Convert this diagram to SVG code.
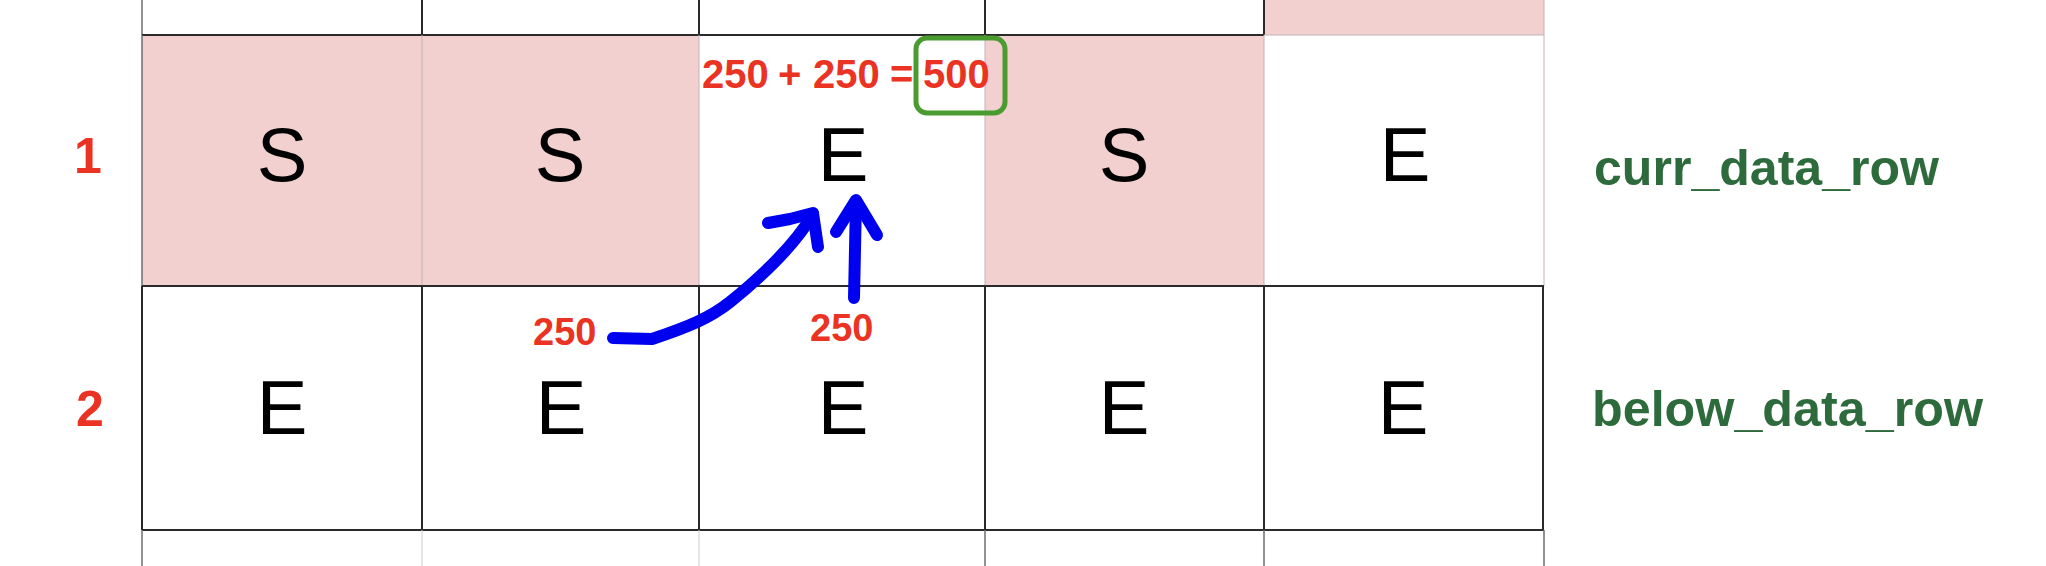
<svg xmlns="http://www.w3.org/2000/svg" width="2046" height="566" viewBox="0 0 2046 566">
  <style>
    .cellS { fill: #f2d0cf; }
    .letter { font-family: "Liberation Sans", Arial, Helvetica, sans-serif; font-size: 76px; fill: #000; text-anchor: middle; }
    .red { font-family: "Liberation Sans", Arial, Helvetica, sans-serif; font-weight: bold; fill: #ea3323; }
    .green { font-family: "Liberation Sans", Arial, Helvetica, sans-serif; font-weight: bold; font-size: 50px; fill: #2e6b3c; }
    .dark { stroke: #2a2a2a; stroke-width: 2; fill: none; }
    .light { stroke: #c4b4b4; stroke-width: 1; fill: none; }
    .lgray { stroke: #cccccc; stroke-width: 1; fill: none; }
    .mgray { stroke: #6e6e6e; stroke-width: 1.5; fill: none; }
    .blue { stroke: #0000f0; stroke-width: 12; fill: none; stroke-linecap: round; stroke-linejoin: round; }
  </style>
  <rect x="0" y="0" width="2046" height="566" fill="#ffffff"/>

  <!-- fills -->
  <g id="fills">
    <rect class="cellS" x="142" y="35" width="280" height="251"/>
    <rect class="cellS" x="422" y="35" width="277" height="251"/>
    <rect class="cellS" x="985" y="35" width="279" height="251"/>
    <rect class="cellS" x="1264" y="0" width="280" height="35"/>
  </g>

  <!-- grid lines -->
  <g id="grid">
    <line class="mgray" x1="142" y1="0" x2="142" y2="35"/>
    <line class="dark" x1="422" y1="0" x2="422" y2="35"/>
    <line class="dark" x1="699" y1="0" x2="699" y2="35"/>
    <line class="dark" x1="985" y1="0" x2="985" y2="35"/>
    <line class="dark" x1="1264" y1="0" x2="1264" y2="35"/>
    <line class="light" x1="1544" y1="0" x2="1544" y2="35"/>
    <line class="dark" x1="142" y1="35" x2="1264" y2="35"/>
    <line class="light" x1="1264" y1="35" x2="1544" y2="35"/>
    <line class="mgray" x1="142" y1="35" x2="142" y2="286"/>
    <line class="light" x1="422" y1="35" x2="422" y2="286"/>
    <line class="light" x1="699" y1="35" x2="699" y2="286"/>
    <line class="light" x1="985" y1="35" x2="985" y2="286"/>
    <line class="light" x1="1264" y1="35" x2="1264" y2="286"/>
    <line class="light" x1="1544" y1="35" x2="1544" y2="286"/>
    <line class="dark" x1="142" y1="286" x2="1544" y2="286"/>
    <line class="dark" x1="142" y1="286" x2="142" y2="530"/>
    <line class="dark" x1="422" y1="286" x2="422" y2="530"/>
    <line class="dark" x1="699" y1="286" x2="699" y2="530"/>
    <line class="dark" x1="985" y1="286" x2="985" y2="530"/>
    <line class="dark" x1="1264" y1="286" x2="1264" y2="530"/>
    <line class="dark" x1="1543" y1="286" x2="1543" y2="530"/>
    <line class="dark" x1="142" y1="530" x2="1544" y2="530"/>
    <line class="mgray" x1="142" y1="530" x2="142" y2="566"/>
    <line class="lgray" x1="422" y1="530" x2="422" y2="566"/>
    <line class="lgray" x1="699" y1="530" x2="699" y2="566"/>
    <line class="mgray" x1="985" y1="530" x2="985" y2="566"/>
    <line class="mgray" x1="1264" y1="530" x2="1264" y2="566"/>
    <line class="mgray" x1="1544" y1="530" x2="1544" y2="566"/>
  </g>

  <!-- row labels -->
  <g id="rowlabel-1"><text class="red" x="88" y="173" font-size="50" text-anchor="middle">1</text></g>
  <g id="rowlabel-2"><text class="red" x="90" y="426" font-size="50" text-anchor="middle">2</text></g>

  <!-- row 1 cells -->
  <g id="r1c1"><text class="letter" x="282" y="181">S</text></g>
  <g id="r1c2"><text class="letter" x="560" y="181">S</text></g>
  <g id="r1c3"><text class="letter" x="843" y="181">E</text></g>
  <g id="r1c4"><text class="letter" x="1124" y="181">S</text></g>
  <g id="r1c5"><text class="letter" x="1405" y="181">E</text></g>

  <!-- row 2 cells -->
  <g id="r2c1"><text class="letter" x="282" y="434">E</text></g>
  <g id="r2c2"><text class="letter" x="561" y="434">E</text></g>
  <g id="r2c3"><text class="letter" x="843" y="434">E</text></g>
  <g id="r2c4"><text class="letter" x="1124" y="434">E</text></g>
  <g id="r2c5"><text class="letter" x="1403" y="434">E</text></g>

  <!-- equation -->
  <g id="equation">
    <text class="red" font-size="40" y="88"><tspan x="702">250</tspan><tspan x="778">+</tspan><tspan x="813">250</tspan><tspan x="890">=</tspan><tspan x="923">500</tspan></text>
    <rect x="916" y="38" width="89" height="75" rx="11" ry="11" fill="none" stroke="#4a9b30" stroke-width="5"/>
  </g>

  <!-- value labels -->
  <g id="val-left"><text class="red" font-size="38" x="533" y="345">250</text></g>
  <g id="val-below"><text class="red" font-size="38" x="810" y="341">250</text></g>

  <!-- row names -->
  <g id="name-curr"><text class="green" x="1594" y="185" textLength="345" lengthAdjust="spacingAndGlyphs">curr_data_row</text></g>
  <g id="name-below"><text class="green" x="1592" y="426" textLength="391" lengthAdjust="spacingAndGlyphs">below_data_row</text></g>

  <!-- connectors -->
  <g id="connectors">
    <path class="blue" d="M613,338 L652,339 C688,327 710,318 730,302 C756,281 792,250 813,214"/>
    <path class="blue" d="M768,223 L790,219 L813,213 L818,247" stroke-width="11"/>
    <path class="blue" d="M854,298 L856,201" stroke-width="10"/>
    <path class="blue" d="M836,232 L856,200 L877,235" stroke-width="10"/>
  </g>
</svg>
